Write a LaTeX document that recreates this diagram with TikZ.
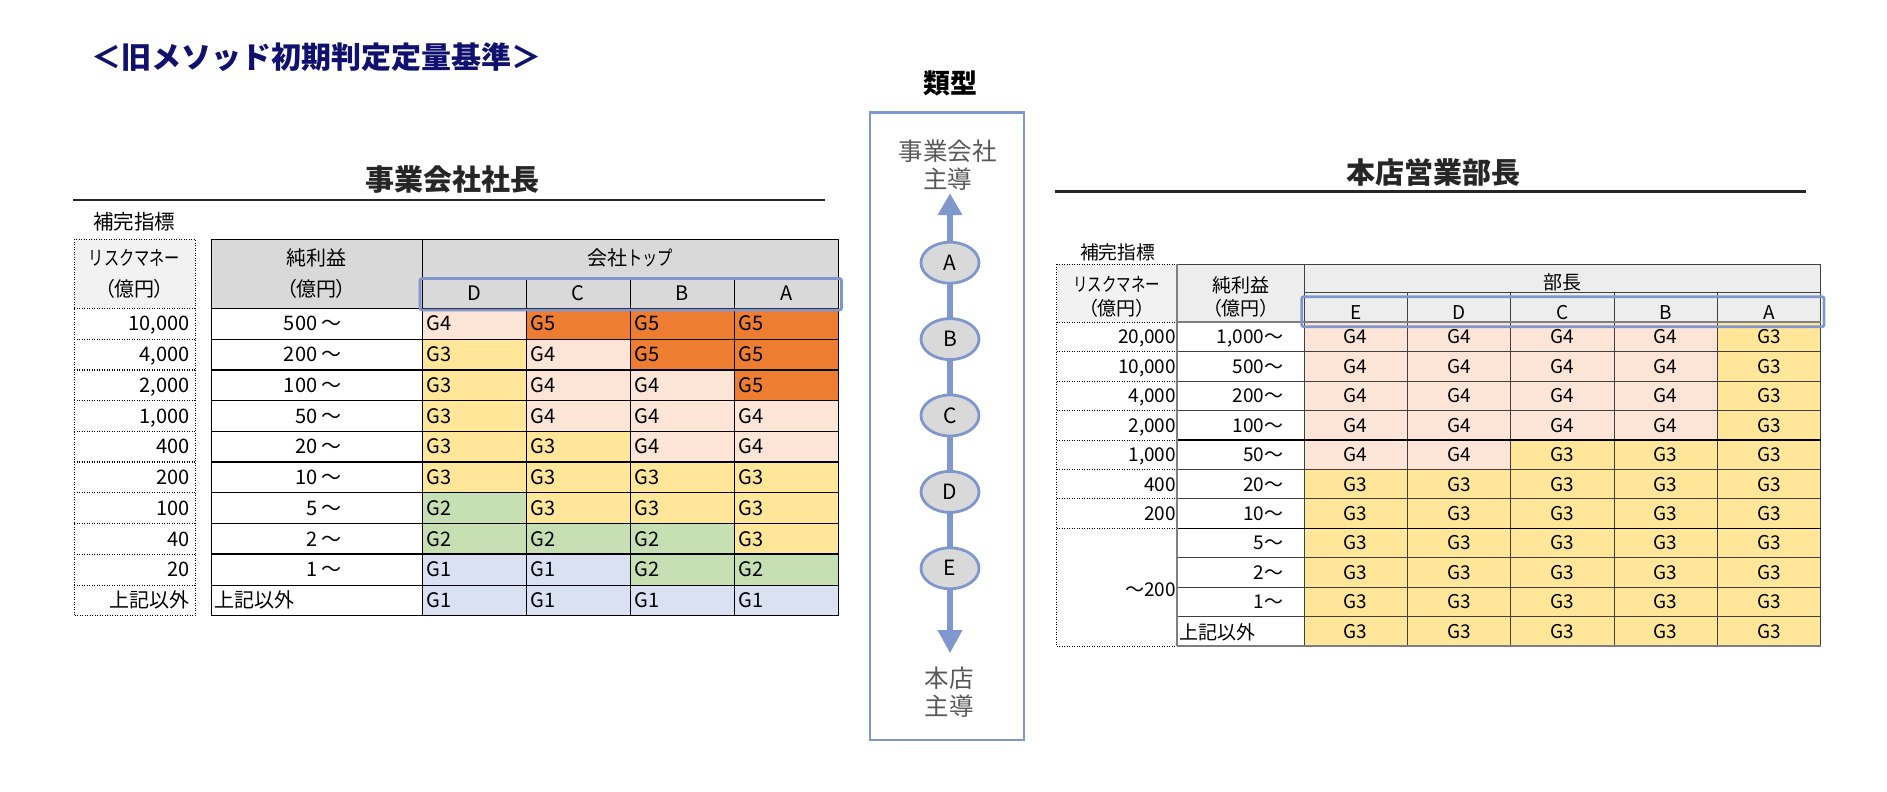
\documentclass[tikz,border=0pt]{standalone}
\usepackage{fontspec}
\setmainfont{Noto Sans CJK JP}
\newfontfamily\narrowjp[FakeStretch=0.76]{Noto Sans CJK JP}
\newfontfamily\paltjp[RawFeature=+palt]{Noto Sans CJK JP}
\usetikzlibrary{shapes.geometric,arrows.meta,backgrounds}
\definecolor{G5}{HTML}{ED7D31}
\definecolor{G4}{HTML}{FCE4D6}
\definecolor{G3}{HTML}{FFE699}
\definecolor{G2}{HTML}{C6E0B4}
\definecolor{G1}{HTML}{D9E1F2}
\definecolor{hdrA}{HTML}{F2F2F2}
\definecolor{hdrB}{HTML}{D9D9D9}
\definecolor{hdrC}{HTML}{EDEDED}
\definecolor{frameblue}{RGB}{127,151,205}
\definecolor{navy}{HTML}{10106E}
\definecolor{dark}{HTML}{262626}
\definecolor{midgray}{HTML}{595959}
\definecolor{rline}{HTML}{404040}
\definecolor{gline}{HTML}{7F7F7F}
\newcommand\fsz[1]{\fontsize{#1}{#1}\selectfont}
\begin{document}
\begin{tikzpicture}[x=1pt,y=-1pt,
  txt/.style={inner sep=0pt,outer sep=0pt,text depth=0pt},
  ltxt/.style={txt,font=\fsz{20},text height=14.4pt},
  rtxt/.style={txt,font=\fsz{19},text height=13.68pt},
  dotl/.style={line width=1pt,dash pattern=on 1.1pt off 1.4pt},
  thinl/.style={line width=0.9pt},
  thickl/.style={line width=2.3pt},
  bluebox/.style={draw=frameblue,line width=2.7pt,rounded corners=2pt},
  stage/.style={ellipse,draw=frameblue,line width=2.8pt,fill=hdrB,minimum width=58pt,minimum height=41pt,inner sep=0pt,font=\fsz{21},text height=15.12pt,text depth=0pt},
  flow/.style={draw=frameblue,line width=6.7pt},
  heading/.style={txt,font=\fsz{29}\bfseries,text height=20.88pt,text=dark},
  graytxt/.style={txt,font=\fsz{24.5},text height=17.64pt,text=midgray},
]
\useasboundingbox (0,0) rectangle (1887,792);

% ---------- main title ----------
\node[txt,anchor=west,font=\fsz{30}\bfseries,text height=21.6pt,text=navy] (title) at (91,57.5) {＜旧メソッド初期判定定量基準＞};

% ================= LEFT TABLE =================
\node[heading] (lhead) at (452,180) {事業会社社長};
\draw[line width=2.5pt,dark] (73,200) -- (825,200);
\node[txt,font=\fsz{20.5},text height=14.76pt] (lsub) at (134,221.7) {補完指標};

\fill[hdrA] (74,239) rectangle (195,308.3);
\fill[hdrB] (211.7,239) rectangle (838.3,308.3);

\foreach \ra/\nb/\ga/\gb/\gc/\gd [count=\i from 0] in {10{,}000/500 ～/4/5/5/5, 4{,}000/200 ～/3/4/5/5, 2{,}000/100 ～/3/4/4/5, 1{,}000/50 ～/3/4/4/4, 400/20 ～/3/3/4/4, 200/10 ～/3/3/3/3, 100/5 ～/2/3/3/3, 40/2 ～/2/2/2/3, 20/1 ～/1/1/2/2}{
  \pgfmathsetmacro\yt{308.3+30.75*\i}
  \pgfmathsetmacro\yc{\yt+15.375}
  \fill[fill=G\ga] (422.3,\yt) rectangle ++(104,30.75);
  \fill[fill=G\gb] (526.3,\yt) rectangle ++(104,30.75);
  \fill[fill=G\gc] (630.3,\yt) rectangle ++(104,30.75);
  \fill[fill=G\gd] (734.3,\yt) rectangle ++(104,30.75);
  \node[ltxt,anchor=east] (Lr\i) at (189.5,\yc) {\ra};
  \node[ltxt,anchor=east] (Ln\i) at (341.7,\yc) {\nb};
  \node[ltxt,anchor=west] (L\i-a) at (426.8,\yc) {G\ga};
  \node[ltxt,anchor=west] (L\i-b) at (530.8,\yc) {G\gb};
  \node[ltxt,anchor=west] (L\i-c) at (634.8,\yc) {G\gc};
  \node[ltxt,anchor=west] (L\i-d) at (738.8,\yc) {G\gd};
}
% last row
\fill[G1] (422.3,585.05) rectangle (838.3,615.8);
\node[ltxt,anchor=east] (Lr9) at (189.5,600.4) {上記以外};
\node[ltxt,anchor=west] (Ln9) at (214,600.4) {上記以外};
\node[ltxt,anchor=west] (L9-a) at (426.8,600.4) {G1};
\node[ltxt,anchor=west] (L9-b) at (530.8,600.4) {G1};
\node[ltxt,anchor=west] (L9-c) at (634.8,600.4) {G1};
\node[ltxt,anchor=west] (L9-d) at (738.8,600.4) {G1};

% dotted column lines
\draw[dotl] (74,239) rectangle (195,615.8);
\foreach \i in {0,1,3,4,6,7,9}{\draw[dotl] (74,{308.3+30.75*\i}) -- (195,{308.3+30.75*\i});}
\foreach \i in {2,5,8}{\draw[dotl,line width=1.6pt] (74,{308.3+30.75*\i}) -- (195,{308.3+30.75*\i});}

% main grid
\draw[thinl] (211.7,239) rectangle (838.3,615.8);
\draw[thinl] (422.3,278.3) -- (838.3,278.3);
\foreach \i in {0,1,3,4,6,7,9}{\draw[thinl] (211.7,{308.3+30.75*\i}) -- (838.3,{308.3+30.75*\i});}
\foreach \i in {2,5,8}{\draw[thickl] (211.7,{308.3+30.75*\i}) -- (838.3,{308.3+30.75*\i});}
\draw[thinl] (422.3,239) -- (422.3,615.8);
\foreach \x in {526.3,630.3,734.3}{\draw[thinl] (\x,278.3) -- (\x,615.8);}

% header texts
\node[ltxt] (lh1) at (134.5,258.3) {\narrowjp リスクマネー};
\node[ltxt] (lh2) at (134.5,289.3) {\paltjp （億円）};
\node[ltxt] (lh3) at (316.7,258.3) {純利益};
\node[ltxt] (lh4) at (316.7,289.3) {\paltjp （億円）};
\node[ltxt] (lh5) at (630.3,258.3) {会社{\narrowjp トップ}};
\node[ltxt] (lcD) at (474.3,293.3) {D};
\node[ltxt] (lcC) at (578.3,293.3) {C};
\node[ltxt] (lcB) at (682.3,293.3) {B};
\node[ltxt] (lcA) at (786.3,293.3) {A};
\draw[bluebox] (420,278.5) rectangle (841.5,310);

% ================= CENTER =================
\node[txt,font=\fsz{27}\bfseries,text height=19.44pt,text=black] (kind) at (950,83.3) {類型};
\draw[draw=frameblue,line width=2.7pt] (870,112.7) rectangle (1024,740);
\node[graytxt] (top1) at (947.5,151.7) {事業会社};
\node[graytxt] (top2) at (947.5,180) {主導};
\node[stage] (A) at (950,262.7) {A};
\node[stage] (B) at (950,339.1) {B};
\node[stage] (C) at (950,415.5) {C};
\node[stage] (D) at (950,491.9) {D};
\node[stage] (E) at (950,568.3) {E};
\coordinate (tipU) at (950,193.3);
\coordinate (tipD) at (950,653.3);
\begin{scope}[on background layer]
\draw[flow,-{Triangle[length=21.7pt,width=23.3pt]}] (A.center) -- (tipU);
\draw[flow] (A.center) -- (B.center) -- (C.center) -- (D.center) -- (E.center);
\draw[flow,-{Triangle[length=23.3pt,width=23.3pt]}] (E.center) -- (tipD);
\end{scope}
\node[graytxt] (bot1) at (949,678.3) {本店};
\node[graytxt] (bot2) at (949,706.7) {主導};

% ================= RIGHT TABLE =================
\node[heading] (rhead) at (1433,173.3) {本店営業部長};
\draw[line width=2.5pt,dark] (1054.7,191.7) -- (1806.4,191.7);
\node[txt,font=\fsz{18.75},text height=13.5pt] (rsub) at (1117.5,252.7) {補完指標};

\fill[hdrA] (1056.7,264) rectangle (1176.7,322.3);
\fill[hdrC] (1176.7,264) rectangle (1820.6,322.3);

\foreach \nb/\ga/\gb/\gc/\gd/\ge [count=\i from 0] in {1{,}000～/4/4/4/4/3, 500～/4/4/4/4/3, 200～/4/4/4/4/3, 100～/4/4/4/4/3, 50～/4/4/3/3/3, 20～/3/3/3/3/3, 10～/3/3/3/3/3, 5～/3/3/3/3/3, 2～/3/3/3/3/3, 1～/3/3/3/3/3, {}/3/3/3/3/3}{
  \pgfmathsetmacro\yt{322.3+29.44*\i}
  \pgfmathsetmacro\yc{\yt+14.72}
  \fill[fill=G\ga] (1304,\yt) rectangle ++(103.32,29.44);
  \fill[fill=G\gb] (1407.32,\yt) rectangle ++(103.32,29.44);
  \fill[fill=G\gc] (1510.64,\yt) rectangle ++(103.32,29.44);
  \fill[fill=G\gd] (1613.96,\yt) rectangle ++(103.32,29.44);
  \fill[fill=G\ge] (1717.28,\yt) rectangle ++(103.32,29.44);
  \node[rtxt,anchor=east] (Rn\i) at (1283.3,\yc) {\nb};
  \node[rtxt] (R\i-a) at (1355.66,\yc) {G\ga};
  \node[rtxt] (R\i-b) at (1458.98,\yc) {G\gb};
  \node[rtxt] (R\i-c) at (1562.3,\yc) {G\gc};
  \node[rtxt] (R\i-d) at (1665.62,\yc) {G\gd};
  \node[rtxt] (R\i-e) at (1768.94,\yc) {G\ge};
}
\node[rtxt,anchor=west] (Rn10b) at (1179,632.5) {上記以外};
\foreach \v [count=\i from 0] in {20{,}000,10{,}000,4{,}000,2{,}000,1{,}000,400,200}{
  \node[rtxt,anchor=east] (Rr\i) at (1176,{337.02+29.44*\i}) {\v};
}
\node[rtxt,anchor=east] (Rr7) at (1176,590) {～200};

% dotted column
\draw[dotl] (1056.7,264) -- (1176.7,264);
\draw[dotl] (1056.7,264) -- (1056.7,646.14);
\foreach \i in {0,...,7}{\draw[dotl] (1056.7,{322.3+29.44*\i}) -- (1176.7,{322.3+29.44*\i});}
\draw[dotl] (1056.7,646.14) -- (1176.7,646.14);

% main grid
\draw[thinl,rline] (1176.7,264) -- (1820.6,264);
\draw[thinl,rline] (1820.6,264) -- (1820.6,646.14);
\draw[thinl,rline] (1304,264) -- (1304,646.14);
\draw[thinl,rline] (1304,292.7) -- (1820.6,292.7);
\foreach \x in {1407.32,1510.64,1613.96,1717.28}{\draw[thinl,rline] (\x,292.7) -- (\x,646.14);}
\foreach \i in {1,2,3,5,6,8,9,10}{\draw[thinl,rline] (1176.7,{322.3+29.44*\i}) -- (1820.6,{322.3+29.44*\i});}
\foreach \i in {4,7}{\draw[line width=1.3pt,black] (1176.7,{322.3+29.44*\i}) -- (1820.6,{322.3+29.44*\i});}
\draw[line width=2pt,gline] (1176.7,322.3) -- (1820.6,322.3);
\draw[line width=2pt,gline] (1176.7,646.14) -- (1820.6,646.14);
\draw[line width=1.6pt,gline] (1176.7,264) -- (1176.7,646.14);

% header texts
\node[rtxt] (rh1) at (1116.7,285) {\narrowjp リスクマネー};
\node[rtxt] (rh2) at (1116.7,308.3) {\paltjp （億円）};
\node[rtxt] (rh3) at (1240.7,286) {純利益};
\node[rtxt] (rh4) at (1240.7,308.3) {\paltjp （億円）};
\node[rtxt] (rh5) at (1562.3,282.7) {部長};
\node[rtxt] (rcE) at (1355.66,312.3) {E};
\node[rtxt] (rcD) at (1458.98,312.3) {D};
\node[rtxt] (rcC) at (1562.3,312.3) {C};
\node[rtxt] (rcB) at (1665.62,312.3) {B};
\node[rtxt] (rcA) at (1768.94,312.3) {A};
\draw[bluebox] (1301.7,296.7) rectangle (1824,326.7);
\end{tikzpicture}
\end{document}
